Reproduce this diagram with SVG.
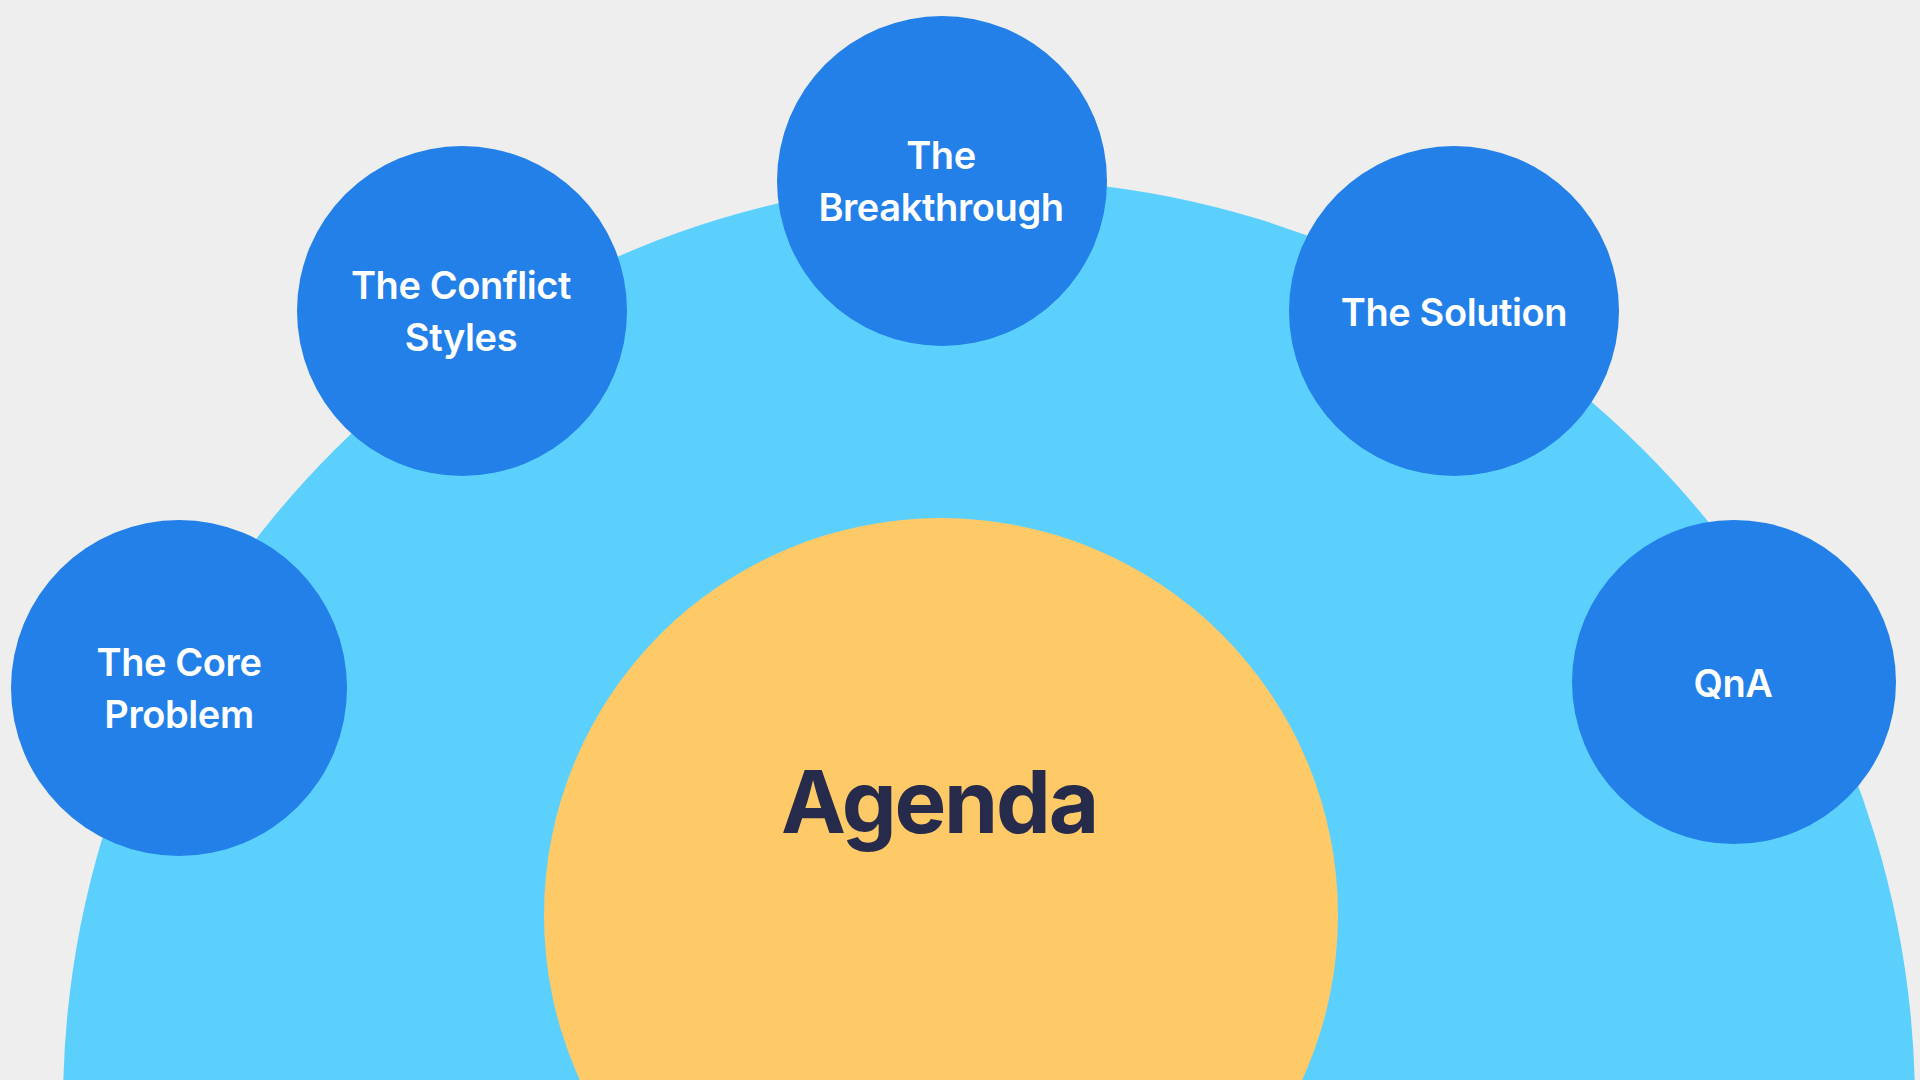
<svg xmlns="http://www.w3.org/2000/svg" width="1920" height="1080" viewBox="0 0 1920 1080">
<style>
.node{fill:#2280E8}
.lbl{font-family:Inter,"Liberation Sans",sans-serif;font-weight:600;font-size:38px;fill:#FFFFFF;text-anchor:middle;letter-spacing:-0.4px}
.title{font-family:Inter,"Liberation Sans",sans-serif;font-weight:700;font-size:87px;fill:#262B4B;text-anchor:middle;letter-spacing:-2.2px}
</style>
<rect width="1920" height="1080" fill="#EEEEEE"/>
<g id="backdrop">
<circle cx="989" cy="1105" r="926" fill="#5CD0FC"/>
</g>
<g id="connectors"></g>
<g id="agenda">
<circle cx="941" cy="915" r="397" fill="#FECA68"/>
<text class="title" x="939" y="833">Agenda</text>
</g>
<g id="core-problem">
<circle class="node" cx="179" cy="688" r="168"/>
<text class="lbl" x="179" y="676">The Core</text>
<text class="lbl" x="179" y="728">Problem</text>
</g>
<g id="conflict-styles">
<circle class="node" cx="462" cy="311" r="165"/>
<text class="lbl" x="461" y="299">The Conflict</text>
<text class="lbl" x="461" y="351">Styles</text>
</g>
<g id="breakthrough">
<circle class="node" cx="942" cy="181" r="165"/>
<text class="lbl" x="941" y="169">The</text>
<text class="lbl" x="941" y="221">Breakthrough</text>
</g>
<g id="solution">
<circle class="node" cx="1454" cy="311" r="165"/>
<text class="lbl" x="1454" y="326">The Solution</text>
</g>
<g id="qna">
<circle class="node" cx="1734" cy="682" r="162"/>
<text class="lbl" x="1733" y="697">QnA</text>
</g>
</svg>
